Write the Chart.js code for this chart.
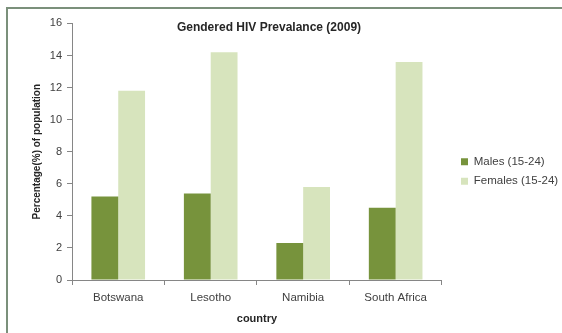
<!DOCTYPE html>
<html>
<head>
<meta charset="utf-8">
<script src="https://cdn.jsdelivr.net/npm/chart.js@4"></script>
<style>
    html, body { margin: 0; padding: 0; background: #fff; }
    .wrap { position: relative; width: 562px; height: 333px; overflow: hidden; }
    .frame {
        position: absolute; left: 6px; top: 7px; width: 600px; height: 400px;
        border-left: 2px solid #7b907b; border-top: 2px solid #7b907b;
    }
    canvas { position: absolute; left: 0; top: 0; }
</style>
</head>
<body>
<div class="wrap">
    <div class="frame"></div>
    <canvas id="hivChart" width="562" height="333"></canvas>
</div>
<script>
const countries = ["Botswana", "Lesotho", "Namibia", "South Africa"];
const males = [5.2, 5.4, 2.3, 4.5];
const females = [11.8, 14.2, 5.8, 13.6];
const yTicks = [0, 2, 4, 6, 8, 10, 12, 14, 16];

const FONT = "'Liberation Sans', Arial, sans-serif";
const GRID = "#868686";

// Excel puts the title and legend a bit off where Chart.js would; move them after layout
const nudge = {
    id: "nudge",
    afterLayout(chart) {
        const lg = chart.legend;
        const dx = 453 - lg.left;
        lg.left += dx;
        lg.right += dx;
        lg.top += 5;
        lg.bottom += 5;

        const t = chart.titleBlock;
        const tdx = 269 - (t.left + t.right) / 2;
        t.left += tdx;
        t.right += tdx;
        t.top += 11;
        t.bottom += 11;
    },
};

new Chart(document.getElementById("hivChart"), {
    type: "bar",
    data: {
        labels: countries,
        datasets: [
            {
                label: "Males (15-24)",
                data: males,
                backgroundColor: "#77933c",
                categoryPercentage: 0.58,
                barPercentage: 1,
            },
            {
                label: "Females (15-24)",
                data: females,
                backgroundColor: "#d7e4bd",
                categoryPercentage: 0.58,
                barPercentage: 1,
            },
        ],
    },
    options: {
        responsive: false,
        animation: false,
        layout: { padding: { left: 0, right: 5, top: 0, bottom: 0 } },
        plugins: {
            title: {
                display: true,
                text: "Gendered HIV Prevalance (2009)",
                color: "#262626",
                font: { family: FONT, size: 12, weight: "bold" },
                padding: { top: 9, bottom: 0 },
            },
            legend: {
                position: "right",
                labels: {
                    boxWidth: 7,
                    boxHeight: 7,
                    padding: 8,
                    color: "#404040",
                    font: { family: FONT, size: 11.5 },
                },
            },
            tooltip: { enabled: false },
        },
        scales: {
            x: {
                grid: {
                    display: true,
                    drawOnChartArea: false,
                    drawTicks: true,
                    tickLength: 5,
                    color: GRID,
                    offset: true,
                },
                border: { color: GRID },
                ticks: {
                    color: "#404040",
                    padding: 6,
                    font: { family: FONT, size: 11.5 },
                },
                title: {
                    display: true,
                    text: "country",
                    color: "#262626",
                    font: { family: FONT, size: 11, weight: "bold" },
                    padding: { top: 4, bottom: 7 },
                },
                afterFit(scale) { scale.height = 53; },
            },
            y: {
                min: 0,
                max: 16,
                afterBuildTicks(scale) {
                    scale.ticks = yTicks.map((v) => ({ value: v }));
                },
                grid: {
                    display: true,
                    drawOnChartArea: false,
                    drawTicks: true,
                    tickLength: 5,
                    color: GRID,
                },
                border: { color: GRID },
                ticks: {
                    color: "#404040",
                    padding: 5,
                    font: { family: FONT, size: 11 },
                },
                title: {
                    display: true,
                    text: "Percentage(%) of population",
                    color: "#262626",
                    font: { family: FONT, size: 10, weight: "bold" },
                    padding: { top: 31, bottom: 0 },
                },
                afterFit(scale) { scale.width = 72; },
            },
        },
    },
    plugins: [nudge],
});
</script>
</body>
</html>
